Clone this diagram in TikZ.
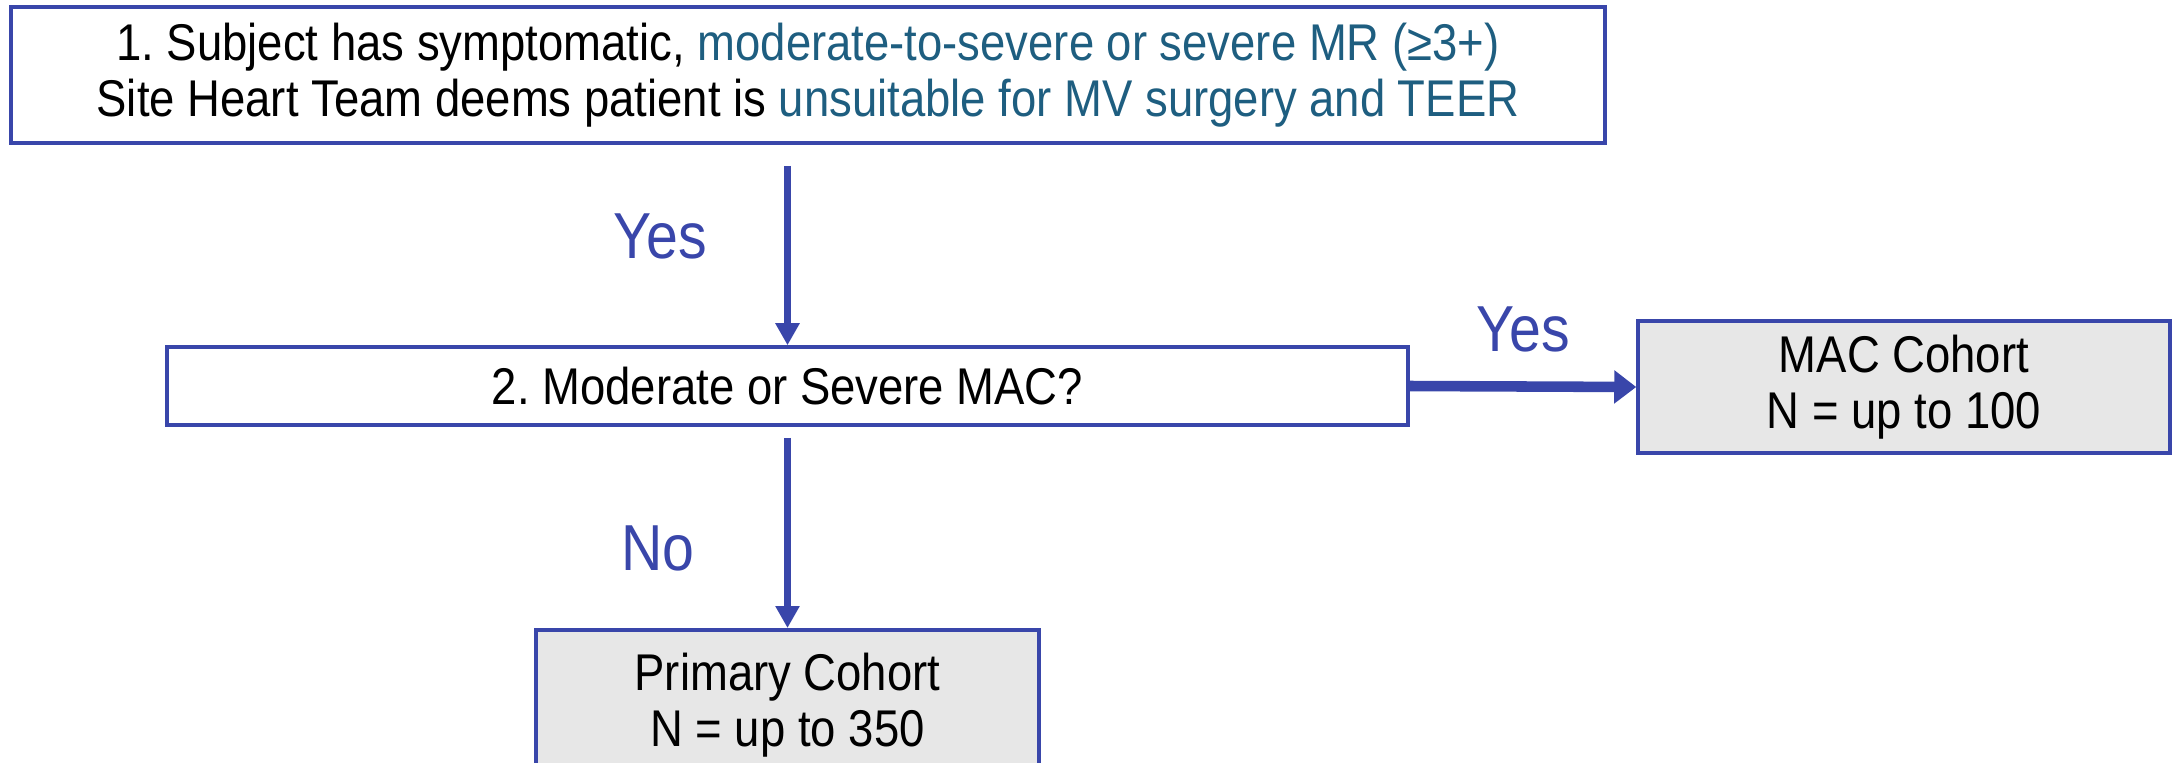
\documentclass[tikz,border=0pt]{standalone}
\usepackage{fontspec}
\setmainfont{Liberation Sans}[FakeStretch=0.88]
\usetikzlibrary{arrows.meta}
\frenchspacing

\definecolor{flowblue}{RGB}{57,70,170}
\definecolor{critteal}{RGB}{30,94,128}
\definecolor{cohortgray}{RGB}{231,231,231}

\begin{document}
\begin{tikzpicture}[>={Triangle[width=0.23cm,length=0.22cm]},
  box/.style={draw=flowblue, line width=1pt, align=center, inner sep=0pt,
    font=\fontsize{14.7}{15.9}\selectfont},
  cohort/.style={box, fill=cohortgray},
  flow/.style={->, draw=flowblue, line width=2pt},
  answer/.style={text=flowblue, font=\fontsize{18.5}{21}\selectfont}]
\useasboundingbox (0,0) rectangle (21.77,-7.62);

%inclusion criteria
\node[box, minimum width=15.94cm, minimum height=1.36cm] (crit) at (8.08,-0.75)
  {1. Subject has symptomatic, \textcolor{critteal}{moderate-to-severe or severe MR (≥3+)}\\
   Site Heart Team deems patient is \textcolor{critteal}{unsuitable for MV surgery and TEER}};
%MAC question
\node[box, minimum width=12.41cm, minimum height=0.78cm] (mac) at (7.875,-3.86)
  {2. Moderate or Severe MAC?};
%cohorts
\node[cohort, minimum width=5.32cm, minimum height=1.32cm] (maccoh) at (19.04,-3.87)
  {MAC Cohort\\ N = up to 100};
\node[cohort, minimum width=5.03cm, minimum height=1.5cm, anchor=north] (primcoh) at (7.875,-6.28)
  {Primary Cohort\\ N = up to 350};

\draw[flow, shorten <=0.21cm] (crit.south -| mac.north) -- (mac.north)
  node[answer, pos = 0.456, left, xshift = -0.65cm] (yes1) {Yes};
\draw[flow, line width=3pt, >={Triangle[width=0.32cm,length=0.22cm]}] (mac.east) -- (maccoh.west)
  node[answer, pos = 0.5, above, yshift = 0.17cm] (yes2) {Yes};
\draw[flow, shorten <=0.11cm] (mac.south) -- (primcoh.north)
  node[answer, pos = 0.606, left, xshift = -0.78cm] (no) {No};

\end{tikzpicture}
\end{document}
